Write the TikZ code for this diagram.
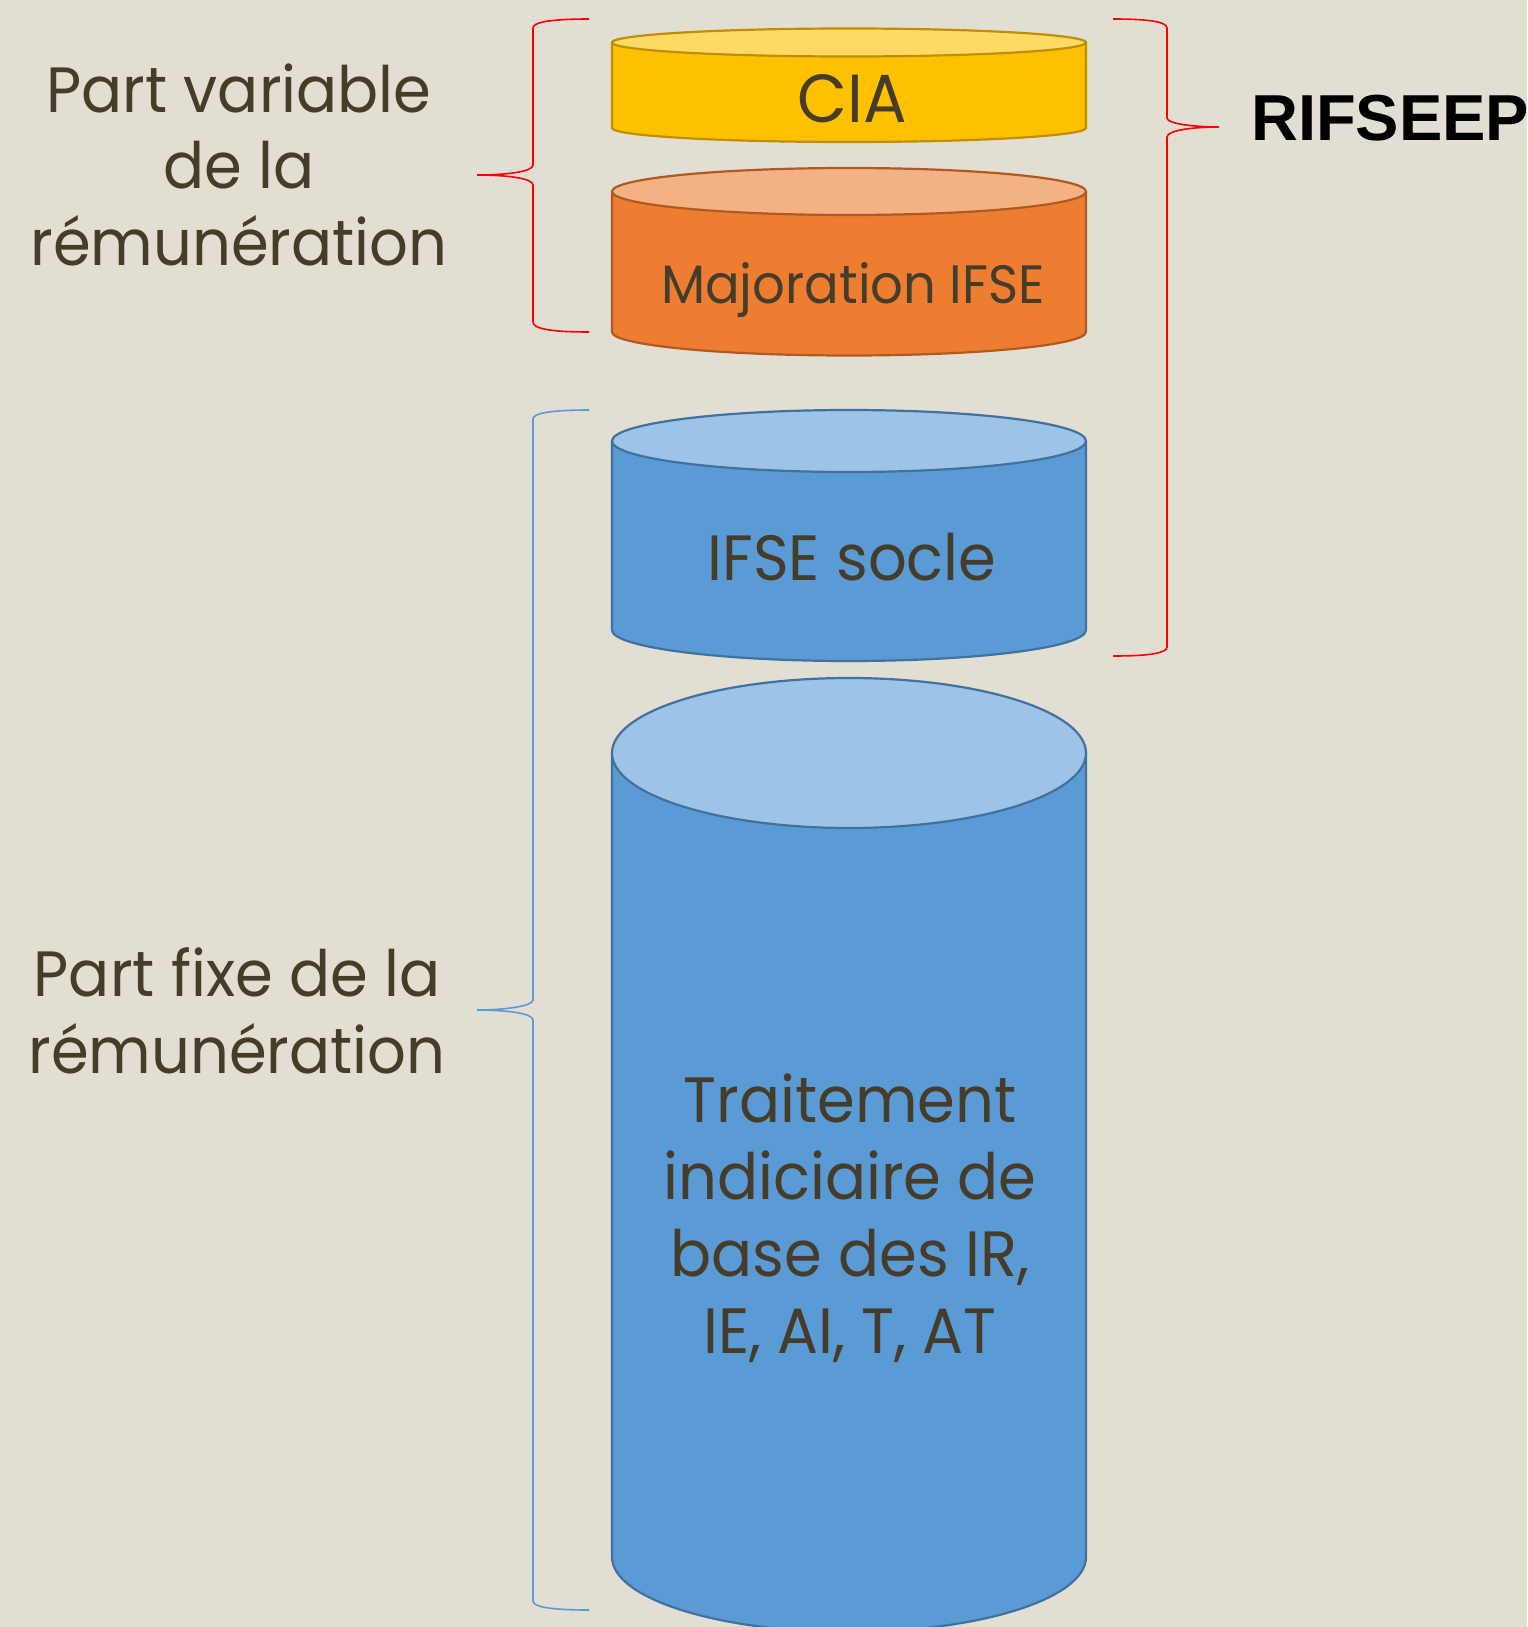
\documentclass[tikz,border=0pt]{standalone}
\usepackage{fontspec}
\setmainfont{Poppins}[FakeStretch=0.95]
\newfontfamily\riffont{Liberation Sans}
\definecolor{bg}{HTML}{E3DED3}
\definecolor{txt}{HTML}{463C2A}
\definecolor{ciabody}{HTML}{FFC000}
\definecolor{ciatop}{HTML}{FFD966}
\definecolor{ciaedge}{HTML}{BF9000}
\definecolor{orbody}{HTML}{ED7D31}
\definecolor{ortop}{HTML}{F4B183}
\definecolor{oredge}{HTML}{AE5A21}
\definecolor{blbody}{HTML}{5B9BD5}
\definecolor{bltop}{HTML}{9DC3E6}
\definecolor{bledge}{HTML}{41719C}
\definecolor{bracebl}{HTML}{5B9BD5}
\tikzset{
  lbl/.style={text=txt, font=\fontsize{64}{76.5}\selectfont, align=center, inner sep=0pt},
  bracered/.style={draw=red, line width=1.6pt},
  braceblue/.style={draw=bracebl, line width=1.6pt},
}
% cx, rx, ytop, ybot, ry, body, top, edge
\newcommand\mycyl[8]{%
  \filldraw[fill=#6, draw=#8, line width=2.2pt, line join=round]
    (#1-#2,#3) -- (#1-#2,#4) arc[start angle=180, end angle=360, x radius=#2pt, y radius=#5pt]
    -- (#1+#2,#3) -- cycle;
  \filldraw[fill=#7, draw=#8, line width=2.2pt] (#1,#3) ellipse[x radius=#2pt, y radius=#5pt];
}
\begin{document}
\begin{tikzpicture}[x=1pt, y=-1pt]
\useasboundingbox (0,0) rectangle (1527,1627);
\fill[bg] (0,0) rectangle (1527,1627);
\begin{scope}
\clip (0,0) rectangle (1527,1627);
\mycyl{849}{237}{42.5}{128}{14}{ciabody}{ciatop}{ciaedge}
\mycyl{849}{237}{191.5}{332}{23.5}{orbody}{ortop}{oredge}
\mycyl{849}{237}{441}{630}{31}{blbody}{bltop}{bledge}
\mycyl{849}{237}{753}{1557}{75}{blbody}{bltop}{bledge}
\end{scope}
% braces
\draw[bracered] (589,19) .. controls (552,19) and (533,22) .. (533,28) -- (533,165)
  .. controls (533,172) and (505,175) .. (477,175) .. controls (505,175) and (533,178) .. (533,185)
  -- (533,322) .. controls (533,329) and (552,332) .. (589,332);
\draw[bracered] (1113,19) .. controls (1150,19) and (1167,22) .. (1167,28) -- (1167,118)
  .. controls (1167,124) and (1195,127) .. (1219,127) .. controls (1195,127) and (1167,130) .. (1167,137)
  -- (1167,647) .. controls (1167,653) and (1150,656) .. (1113,656);
\draw[braceblue] (589,410) .. controls (552,410) and (533,413) .. (533,419) -- (533,1000)
  .. controls (533,1006) and (505,1010) .. (477,1010) .. controls (505,1010) and (533,1013) .. (533,1020)
  -- (533,1601) .. controls (533,1607) and (552,1610) .. (589,1610);
% texts (anchor=base is the baseline of the last line)
\node[lbl, anchor=base] (pv) at (239,265) {Part variable\\de la\\rémunération};
\node[lbl, anchor=base] (pf) at (237,1073) {Part fixe de la\\rémunération};
\node[lbl, font=\fontsize{68}{76.5}\selectfont, anchor=base] (cia) at (852,123) {CIA};
\node[lbl, font=\fontsize{54}{60}\selectfont, anchor=base] (maj) at (853,303) {Majoration IFSE};
\node[lbl, anchor=base] (socle) at (852,580) {IFSE socle};
\node[lbl, font=\fontsize{64}{76.7}\selectfont, anchor=base] (trait) at (850,1353) {Traitement\\indiciaire de\\base des IR,\\IE, AI, T, AT};
\node[font=\riffont\bfseries\fontsize{65}{70}\selectfont, anchor=base west, inner sep=0pt] (rif) at (1251,140) {RIFSEEP};
\end{tikzpicture}
\end{document}
